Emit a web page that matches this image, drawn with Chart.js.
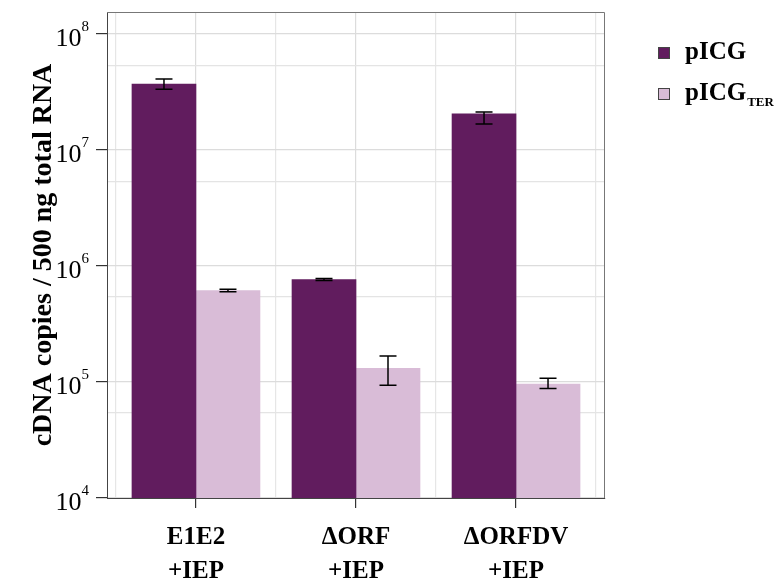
<!DOCTYPE html>
<html>
<head>
<meta charset="utf-8">
<script src="https://cdn.jsdelivr.net/npm/chart.js@4/dist/chart.umd.min.js"></script>
<style>
  html, body { margin: 0; padding: 0; background: #ffffff; }
  #wrap { width: 778px; height: 578px; }
</style>
</head>
<body>
<div id="wrap"><canvas id="c" width="778" height="578"></canvas></div>
<script>
// Constructs and measured cDNA yields
const categories = [['E1E2', '+IEP'], ['\u0394ORF', '+IEP'], ['\u0394ORFDV', '+IEP']];
const seriesBase = ['pICG', 'pICG'];
const seriesSub = ['', 'TER'];

const picgMean = [3.7e7, 7.65e5, 2.05e7];
const picgLow  = [3.35e7, 7.5e5, 1.68e7];
const picgHigh = [4.1e7, 7.8e5, 2.13e7];

const terMean = [6.15e5, 1.31e5, 9.6e4];
const terLow  = [6.0e5, 9.4e4, 8.8e4];
const terHigh = [6.3e5, 1.68e5, 1.08e5];

const yMajorTicks = [1e4, 1e5, 1e6, 1e7, 1e8];
const yMinorLines = [5.5e4, 5.4e5, 5.3e6, 5.4e7];
const xGridPositions = [0.5, 1, 1.5, 2, 2.5, 3, 3.5];

const colors = ['#611c5e', '#d9bcd7'];
const SERIF = '"Liberation Serif", "Times New Roman", serif';

function points(arr) { return arr.map((v, i) => ({ x: i + 1, y: v })); }
function tickVal(c) { return c && c.tick ? c.tick.value : null; }
function isXMajor(c) { const v = tickVal(c); return v !== null && Number.isInteger(v); }
function isYMajor(c) { const v = tickVal(c); return v !== null && yMajorTicks.includes(v); }

// Error bars drawn from low/high arrays on top of each bar
const errorBars = {
  id: 'errorBars',
  afterDatasetsDraw(chart) {
    const ctx = chart.ctx;
    const y = chart.scales.y;
    const ranges = [[picgLow, picgHigh], [terLow, terHigh]];
    ctx.save();
    ctx.strokeStyle = '#000';
    ctx.lineWidth = 1.5;
    ranges.forEach((r, di) => {
      const meta = chart.getDatasetMeta(di);
      meta.data.forEach((bar, i) => {
        const x = bar.x;
        const y1 = y.getPixelForValue(r[0][i]);
        const y2 = y.getPixelForValue(r[1][i]);
        const half = 8.5;
        ctx.beginPath();
        ctx.moveTo(x, y1); ctx.lineTo(x, y2);
        ctx.moveTo(x - half, y1); ctx.lineTo(x + half, y1);
        ctx.moveTo(x - half, y2); ctx.lineTo(x + half, y2);
        ctx.stroke();
      });
    });
    ctx.restore();
  }
};

// Power-of-ten tick labels, panel frame and legend with subscript
const decorations = {
  id: 'decorations',
  afterDraw(chart) {
    const ctx = chart.ctx;
    const ys = chart.scales.y;
    const area = chart.chartArea;
    ctx.save();
    // top and right frame edges
    ctx.strokeStyle = '#777';
    ctx.lineWidth = 1;
    ctx.beginPath();
    ctx.moveTo(area.left, area.top + 0.5);
    ctx.lineTo(area.right - 0.5, area.top + 0.5);
    ctx.lineTo(area.right - 0.5, area.bottom);
    ctx.stroke();

    // y tick labels as 10 with superscript exponent
    ctx.fillStyle = '#000';
    yMajorTicks.forEach(v => {
      const py = ys.getPixelForValue(v);
      const exp = String(Math.round(Math.log10(v)));
      ctx.font = '15px ' + SERIF;
      const ew = ctx.measureText(exp).width;
      const right = 89;
      ctx.textAlign = 'left';
      ctx.textBaseline = 'alphabetic';
      ctx.fillText(exp, right - ew, py - 3);
      ctx.font = '26px ' + SERIF;
      ctx.textAlign = 'right';
      ctx.fillText('10', right - ew, py + 12);
    });

    // legend
    const lx = 658, rows = [53, 94];
    rows.forEach((cy, i) => {
      ctx.fillStyle = colors[i];
      ctx.fillRect(lx, cy - 6, 12, 12);
      ctx.strokeStyle = '#444';
      ctx.lineWidth = 1;
      ctx.strokeRect(lx + 0.5, cy - 5.5, 11, 11);
      ctx.fillStyle = '#000';
      ctx.textAlign = 'left';
      ctx.textBaseline = 'alphabetic';
      ctx.font = 'bold 25px ' + SERIF;
      ctx.fillText(seriesBase[i], 685, cy + 6);
      if (seriesSub[i]) {
        const w = ctx.measureText(seriesBase[i]).width;
        ctx.font = 'bold 13px ' + SERIF;
        ctx.fillText(seriesSub[i], 685 + w + 1, cy + 12);
      }
    });
    ctx.restore();
  }
};

new Chart(document.getElementById('c'), {
  type: 'bar',
  data: {
    datasets: [
      { label: seriesBase[0] + seriesSub[0], data: points(picgMean), backgroundColor: colors[0] },
      { label: seriesBase[1] + seriesSub[1], data: points(terMean), backgroundColor: colors[1] }
    ]
  },
  plugins: [errorBars, decorations],
  options: {
    responsive: false,
    animation: false,
    layout: { padding: { top: 12, right: 173, left: 0, bottom: 0 } },
    datasets: { bar: { barThickness: 64, borderWidth: 0 } },
    plugins: { legend: { display: false }, tooltip: { enabled: false } },
    scales: {
      x: {
        type: 'linear',
        offset: false,
        min: 0.444,
        max: 3.556,
        afterBuildTicks: s => { s.ticks = xGridPositions.map(v => ({ value: v })); },
        afterFit: s => { s.height = 80; },
        grid: {
          offset: false,
          color: c => isXMajor(c) ? '#dcdcdc' : '#e6e6e6',
          lineWidth: 1.2,
          tickColor: c => isXMajor(c) ? '#333' : 'rgba(0,0,0,0)',
          tickLength: 10
        },
        border: { display: true, color: '#444', width: 1 },
        ticks: {
          autoSkip: false,
          maxRotation: 0,
          padding: 13,
          color: '#000',
          font: { family: SERIF, size: 25, weight: 'bold', lineHeight: 1.35 },
          callback: v => Number.isInteger(v) ? categories[v - 1] : ''
        }
      },
      y: {
        type: 'logarithmic',
        min: 1e4,
        max: 1.55e8,
        afterBuildTicks: s => {
          s.ticks = yMajorTicks.concat(yMinorLines).map(v => ({ value: v }));
        },
        afterFit: s => { s.width = 107; },
        grid: {
          color: c => isYMajor(c) ? '#dcdcdc' : '#e4e4e4',
          lineWidth: 1.2,
          tickColor: c => isYMajor(c) ? '#333' : 'rgba(0,0,0,0)',
          tickLength: 11
        },
        border: { display: true, color: '#444', width: 1 },
        ticks: { display: false },
        title: {
          display: true,
          text: 'cDNA copies / 500 ng total RNA',
          color: '#000',
          font: { family: SERIF, size: 28, weight: 'bold', lineHeight: 1.2 },
          padding: { top: 27, bottom: 0 }
        }
      }
    }
  }
});
</script>
</body>
</html>
